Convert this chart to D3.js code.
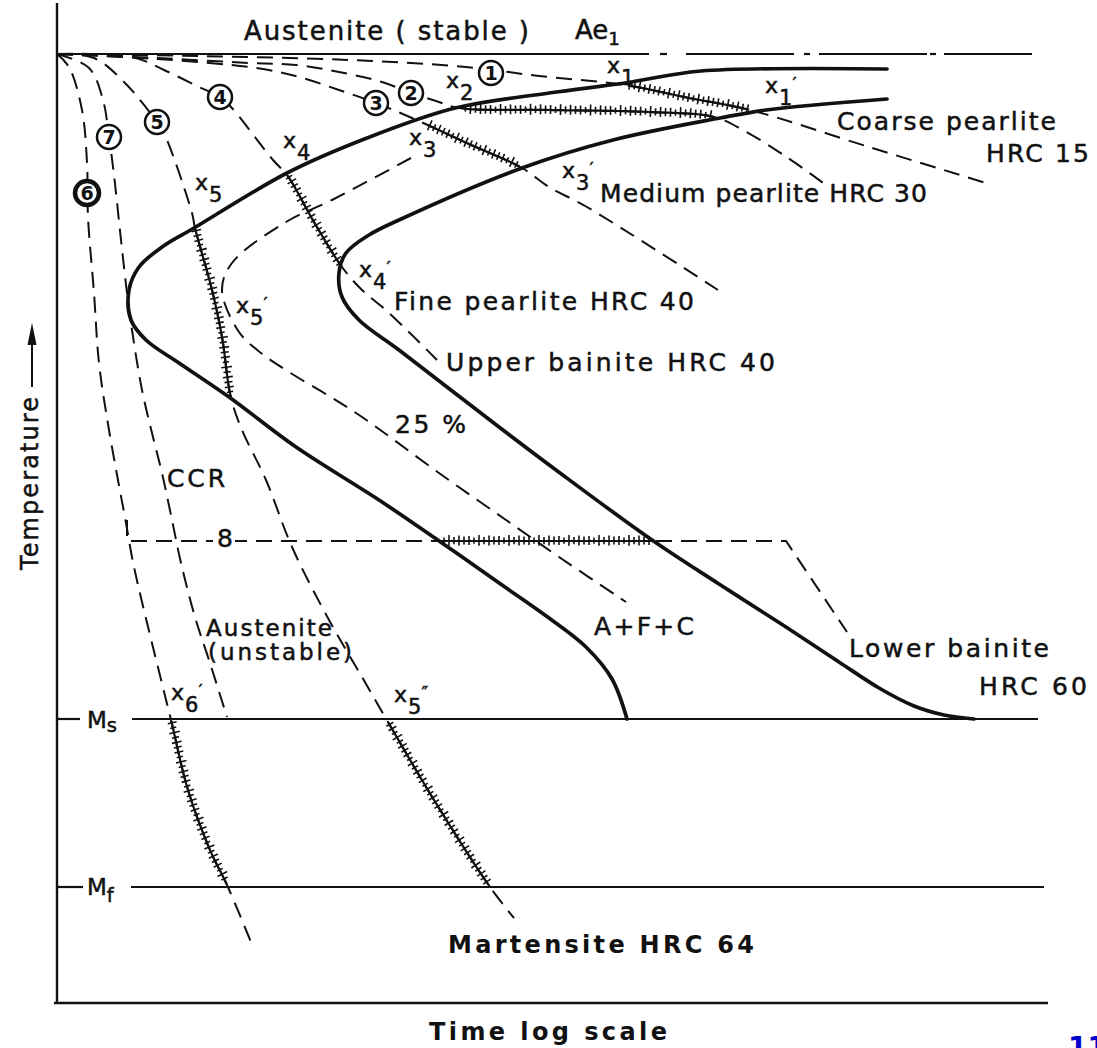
<!DOCTYPE html>
<html><head><meta charset="utf-8">
<script src="https://cdn.jsdelivr.net/npm/d3@7"></script>
<style>body{margin:0;background:#fff}svg{display:block}</style>
</head><body>
<svg id="c" width="1097" height="1048"></svg>
<script>
// ---- data (time: log units 0..100, temperature: relative units 0..100) ----
const AE1 = 94.9, MS = 28.4, MF = 11.6;
const ae1Segments = [[0,59.2],[60.3,61.0],[62.9,73.7],[74.7,75.3],[76.2,87.0],[87.3,87.9],[88.7,97.5]];
const msSegments = [[0,2.3],[7.5,98.1]];
const mfSegments = [[0,2.6],[7.4,98.7]];

const startCurve = [[83.0,93.4],[64.4,93.2],[56.8,92.0],[49.2,91.0],[39.8,89.5],[31.0,86.5],[23.0,83.0],[13.7,77.5],[10.5,75.6],[8.2,73.6],[7.2,71.3],[7.4,68.3],[8.9,66.3],[12.2,64.0],[17.2,60.6],[23.9,55.6],[32.2,50.3],[38.5,46.0],[44.5,41.8],[49.2,38.5],[52.9,35.6],[55.5,32.4],[57.0,28.4]];
const finishCurve = [[83.0,90.4],[70.9,89.3],[66.3,88.5],[55.6,86.3],[46.5,83.5],[34.2,78.3],[31.2,76.8],[28.9,75.0],[28.2,73.0],[28.5,70.6],[30.2,68.3],[34.2,65.3],[44.2,57.6],[49.9,53.3],[59.5,46.3],[66.2,41.9],[72.9,37.6],[78.2,34.1],[82.2,31.5],[85.7,29.7],[88.7,28.8],[91.7,28.4]];
const pct25Curve = [[35.4,84.5],[27.5,80.3],[22.9,78.1],[17.5,74.0],[16.5,71.3],[18.2,67.1],[20.4,65.0],[23.2,63.1],[27.2,60.7],[30.5,58.6],[38.2,53.0],[44.9,48.3],[50.2,44.6],[56.9,40.1]];

const cool1 = [[0,94.9],[14.2,94.7],[29.2,94.3],[40.9,93.6],[48.2,92.7],[56.8,91.8],[63.2,90.5],[69.3,89.3],[81.2,85.6],[92.9,82.0]];
const cool2 = [[0,94.9],[10,94.5],[19.2,94.0],[23.9,93.8],[28.2,93.1],[32.5,92.1],[35.4,91.0],[37.9,90.2],[40.2,89.5],[49.2,89.3],[59.2,89.1],[65.7,88.6],[68.6,87.3],[73.1,84.5],[76.9,81.8]];
const cool3 = [[0,94.9],[10,94.4],[19.9,93.5],[24.2,92.6],[28.2,91.3],[31.9,90.0],[35.5,88.5],[41.2,85.9],[46.5,83.5],[49.2,81.6],[53.0,79.6],[66.1,71.3]];
const cool4 = [[0,94.9],[7.5,94.6],[10.7,93.3],[14.2,91.6],[16.3,90.6],[17.4,89.6],[21.6,84.3],[23.0,82.8],[25.7,78.1],[28.5,73.6],[30.5,71.3],[33.1,69.1],[38.0,64.3]];
const cool5 = [[0,94.9],[3.7,94.5],[6.8,92.0],[10.0,88.1],[10.7,87.0],[13.5,79.0],[13.8,77.5],[15.5,71.3],[16.5,66.6],[17.4,60.5],[18.5,57.3],[20.9,52.3],[23.5,45.6],[27.2,38.3],[30.5,32.6],[33.1,28.1],[37.7,20.3],[43.3,11.6],[45.7,8.5]];
const cool6 = [[0,94.9],[1.2,93.6],[2.5,89.3],[3.0,84.0],[3.1,78.6],[3.7,71.0],[4.2,64.0],[5.2,57.3],[6.9,48.0],[7.7,43.6],[11.4,28.3],[13.1,21.3],[15.3,15.3],[17.0,11.8],[19.6,5.6]];
const cool7 = [[0,94.9],[3.2,93.5],[4.6,90.3],[5.2,86.6],[5.7,82.8],[6.4,76.3],[7.0,71.0],[7.5,67.3],[8.5,61.3],[9.5,57.0],[10.5,53.0],[11.5,48.3],[12.4,44.0],[13.8,38.6],[15.2,34.3],[17.0,28.6]];
const cool8 = [[7.0,48.3],[7.0,46.2],[72.9,46.2],[79.0,37.1]];

// transformation (hatched) ranges along each cooling path: [curve, timeFrom, timeTo]
const hatchRanges = [["c1",57.0,69.3],["c2",40.6,65.8],["c3",37.0,46.3],["c4",23.0,28.5],["c5",13.8,17.4],["c5",33.1,43.3],["c6",11.4,17.0],["c8",38.5,59.6]];

const circleLabels = [["1",43.4,93.0],["2",35.4,91.0],["3",31.9,90.0],["4",16.3,90.6],["5",10.0,88.1],["7",5.2,86.6],["6",3.0,81.0]];

const pointLabels = [["1","",55.0,93.0],["1","′",70.8,91.0],["2","",38.9,91.5],["3","",35.2,85.8],["3","′",50.5,82.5],["4","",22.6,85.5],["4","′",30.2,72.6],["5","",13.8,81.3],["5","′",17.9,69.0],["6","′",11.4,30.3],["5","″",33.7,30.1]];

const textLabels = [
  ["Austenite ( stable )",18.7,96.3,28.5,26,false],
  ["Coarse pearlite",78.0,87.3,21.9,25,false],
  ["HRC 15",92.9,84.1,10.3,25,false],
  ["Medium pearlite HRC 30",54.3,80.1,32.7,25,false],
  ["Fine pearlite HRC 40",33.7,69.3,30.0,25,false],
  ["Upper bainite HRC 40",38.9,63.2,32.9,25,false],
  ["25 %",33.8,57.0,7.1,25,false],
  ["CCR",11.0,51.6,5.8,25,false],
  ["Austenite",14.9,36.7,12.6,23,false],
  ["(unstable)",15.1,34.3,14.4,23,false],
  ["A+F+C",53.7,36.8,10.0,25,false],
  ["Lower bainite",79.2,34.6,20.0,25,false],
  ["HRC 60",92.2,30.8,10.8,25,false],
  ["Martensite HRC 64",39.1,5.0,30.6,24,true],
  ["Time log scale",37.2,-3.7,23.8,24,true]
];

// ---- drawing ----
const svg = d3.select("#c");
svg.append("rect").attr("width",1097).attr("height",1048).attr("fill","#fff");
const x = d3.scaleLinear().domain([0,100]).range([57,1057]);
const y = d3.scaleLinear().domain([0,100]).range([1003,3]);
const smooth = d3.line().x(d=>x(d[0])).y(d=>y(d[1])).curve(d3.curveCatmullRom.alpha(0.5));
const straight = d3.line().x(d=>x(d[0])).y(d=>y(d[1]));
const FONT = "'DejaVu Sans', sans-serif";
const INK = "#111";

// axes
svg.append("line").attr("x1",x(0)).attr("x2",x(0)).attr("y1",y(100)).attr("y2",y(0)).attr("stroke",INK).attr("stroke-width",2.4);
svg.append("line").attr("x1",x(-0.3)).attr("x2",x(99.1)).attr("y1",y(0)).attr("y2",y(0)).attr("stroke",INK).attr("stroke-width",2.4);

function hSegs(segs, t, w){
  svg.append("g").selectAll("line").data(segs).join("line")
    .attr("x1",d=>x(d[0])).attr("x2",d=>x(d[1])).attr("y1",y(t)).attr("y2",y(t))
    .attr("stroke",INK).attr("stroke-width",w);
}
hSegs(ae1Segments, AE1, 2.2);
hSegs(msSegments, MS, 2.2);
hSegs(mfSegments, MF, 2.2);

// cooling curves (dashed)
const gc = svg.append("g").attr("fill","none").attr("stroke",INK).attr("stroke-width",2).attr("stroke-dasharray","16,9");
const paths = {};
[["c1",cool1],["c2",cool2],["c3",cool3],["c4",cool4],["c5",cool5],["c6",cool6],["c7",cool7]].forEach(([k,d])=>{
  paths[k] = gc.append("path").attr("d",smooth(d)).node();
});
paths.c8 = gc.append("path").attr("d",straight(cool8)).node();
gc.append("path").attr("d",smooth(pct25Curve));

// hatched transformation bands
const gh = svg.append("g").attr("fill","none").attr("stroke",INK);
hatchRanges.forEach(([k,t0,t1],hi)=>{
  const node = paths[k], L = node.getTotalLength(), pts=[];
  for(let s=0;s<=L;s+=1){const p=node.getPointAtLength(s); const t=x.invert(p.x); if(t>=t0&&t<=t1&&(k!=="c8"||Math.abs(y.invert(p.y)-46.2)<0.05)) pts.push([p.x,p.y]);}
  if(pts.length<3) return;
  gh.append("path").attr("d",d3.line()(pts)).attr("stroke-width",2.2);
  const lens=[10,7,12,8,11,9];
  for(let i=2,j=0;i<pts.length-2;i+=5,j++){
    const a=pts[i-2], b=pts[i+2]; let dx=b[0]-a[0], dy=b[1]-a[1]; const n=Math.hypot(dx,dy)||1;
    const nx=-dy/n, ny=dx/n, l=lens[(j+hi)%lens.length]/2;
    gh.append("line").attr("x1",pts[i][0]-nx*l).attr("y1",pts[i][1]-ny*l).attr("x2",pts[i][0]+nx*l*0.8).attr("y2",pts[i][1]+ny*l*0.8).attr("stroke-width",1.6);
  }
});

// transformation start / finish curves
svg.append("path").attr("d",smooth(startCurve)).attr("fill","none").attr("stroke",INK).attr("stroke-width",3.7).attr("stroke-linecap","round");
svg.append("path").attr("d",smooth(finishCurve)).attr("fill","none").attr("stroke",INK).attr("stroke-width",3.7).attr("stroke-linecap","round");

// circled curve numbers
const gci = svg.append("g").selectAll("g").data(circleLabels).join("g").attr("transform",d=>`translate(${x(d[1])},${y(d[2])})`);
gci.append("circle").attr("r",12).attr("fill","#fff").attr("stroke",INK).attr("stroke-width",d=>d[0]==="6"?4.5:2.5);
gci.append("text").text(d=>d[0]).attr("text-anchor","middle").attr("dy",7).attr("font-family",FONT).attr("font-size",19).attr("font-weight","bold").attr("fill",INK);

// label "8" on the isothermal path
svg.append("rect").attr("x",x(15.6)).attr("y",y(48.0)).attr("width",22).attr("height",20).attr("fill","#fff");
svg.append("text").text("8").attr("x",x(16.0)).attr("y",y(45.6)).attr("font-family",FONT).attr("font-size",25).attr("fill",INK).attr("stroke",INK).attr("stroke-width",0.5);

// point labels x_n
const gp = svg.append("g").attr("font-family",FONT).attr("fill",INK).attr("stroke",INK).attr("stroke-width",0.5);
pointLabels.forEach(([sub,pr,tx,ty])=>{
  const t = gp.append("text").attr("x",x(tx)).attr("y",y(ty)).attr("font-size",22);
  t.append("tspan").text("x");
  t.append("tspan").text(sub).attr("dy",12).attr("dx",1).attr("font-size",21);
  if(pr) t.append("tspan").text(pr).attr("dy",-15).attr("font-size",18);
});

// Ae1, Ms, Mf
function subLabel(main, sub, tx, ty, size, dy, ratio){
  const t = svg.append("text").attr("x",x(tx)).attr("y",y(ty)).attr("font-family",FONT).attr("font-size",size).attr("fill",INK).attr("stroke",INK).attr("stroke-width",0.5);
  t.append("tspan").text(main);
  t.append("tspan").text(sub).attr("dy",dy).attr("font-size",size*ratio);
}
subLabel("Ae","1",51.8,96.4,26,6,0.7);
subLabel("M","s",3.0,27.5,23,4,0.85);
subLabel("M","f",3.0,10.8,23,7,0.85);

// text labels
svg.append("g").selectAll("text").data(textLabels).join("text")
  .text(d=>d[0]).attr("x",d=>x(d[1])).attr("y",d=>y(d[2]))
  .attr("textLength",d=>x(d[3])-x(0)).attr("lengthAdjust","spacing")
  .attr("font-family",FONT).attr("font-size",d=>d[4]).attr("font-weight",d=>d[5]?"bold":"normal")
  .attr("fill",INK).attr("stroke",INK).attr("stroke-width",d=>d[5]?0:0.5);

// y axis title with arrow
const ax = x(-2.5);
svg.append("text").text("Temperature").attr("transform",`translate(${x(-1.9)},${y(43.3)}) rotate(-90)`)
  .attr("textLength",173).attr("lengthAdjust","spacing")
  .attr("font-family",FONT).attr("font-size",24).attr("fill",INK).attr("stroke",INK).attr("stroke-width",0.5);
svg.append("line").attr("x1",ax).attr("x2",ax).attr("y1",y(61.6)).attr("y2",y(66.5)).attr("stroke",INK).attr("stroke-width",2);
svg.append("path").attr("d",`M${ax},${y(68.0)} L${ax-4.5},${y(65.8)} L${ax+4.5},${y(65.8)} Z`).attr("fill",INK);

// page number (cropped at the edge, as in the source)
svg.append("text").text("11").attr("x",1068).attr("y",1057).attr("font-family",FONT).attr("font-weight","bold").attr("font-size",28).attr("fill","#0000cc");
</script>
</body></html>
